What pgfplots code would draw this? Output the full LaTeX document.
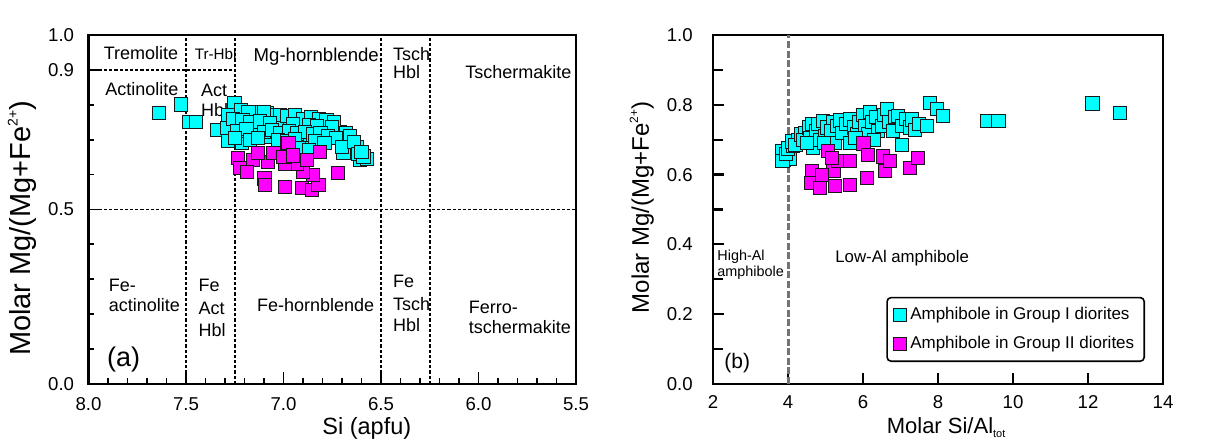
\documentclass[border=0pt]{standalone}
\usepackage{pgfplots}
\pgfplotsset{compat=1.18}
\usepackage{fontspec}
\setmainfont{Liberation Sans}
\definecolor{grpI}{RGB}{0,255,255}
\definecolor{grpII}{RGB}{255,0,255}
\definecolor{edge}{RGB}{25,25,25}
\newcommand{\fs}[1]{\fontsize{#1}{#1}\selectfont}

% group I (cyan) and group II (magenta) amphiboles
\pgfplotsset{
  amphI/.style={only marks, mark=square*, mark size=3.3pt, draw=edge, fill=grpI,
    mark options={line width=0.45pt, sharp corners}},
  amphII/.style={only marks, mark=square*, mark size=3.3pt, draw=edge, fill=grpII,
    mark options={line width=0.45pt, sharp corners}},
  field/.style={black, line width=0.8pt, dash pattern=on 1.6pt off 1pt, forget plot},
  /pgf/number format/assume math mode=true,
}

\begin{document}
\begin{tikzpicture}
\useasboundingbox (0,0) rectangle (609.5pt,-221pt);

% ---------------- (a) classification diagram ----------------
\begin{axis}[
  at={(44.25pt,-192pt)}, anchor=south west,
  scale only axis, width=243.75pt, height=174.5pt,
  xmin=5.5, xmax=8, x dir=reverse, ymin=0, ymax=1,
  xtick={5.5,6,6.5,7,7.5,8}, minor x tick num=4,
  ytick={0,0.5,0.9,1}, minor ytick={0.1,0.2,0.3,0.4,0.6,0.7,0.8},
  xtick pos=bottom, ytick pos=left, tick align=inside,
  major tick length=6pt, minor tick length=3pt,
  axis line style={line width=1.1pt},
  every tick/.style={black, line width=0.9pt},
  xticklabel style={font=\fs{9.3}, inner sep=0pt, yshift=-6.5pt,
    /pgf/number format/fixed, /pgf/number format/fixed zerofill, /pgf/number format/precision=1},
  yticklabel style={font=\fs{9.3}, inner sep=0pt, xshift=-7pt,
    /pgf/number format/fixed, /pgf/number format/fixed zerofill, /pgf/number format/precision=1},
  xlabel={Si (apfu)},
  xlabel style={font=\fs{11.75}, at={(axis description cs:0.571,-0.126)}, anchor=center},
  ylabel={Molar Mg/(Mg+Fe\raisebox{0.85ex}{\fs{7}2+})},
  ylabel style={font=\fs{14.5}, at={(axis description cs:-0.136,0.446)}, anchor=center},
]
\addplot[field] coordinates {(7.5,0) (7.5,1)};
\addplot[field] coordinates {(7.25,0) (7.25,1)};
\addplot[field] coordinates {(6.5,0) (6.5,1)};
\addplot[field] coordinates {(6.25,0) (6.25,1)};
\addplot[field] coordinates {(8,0.5) (5.5,0.5)};
\addplot[field] coordinates {(8,0.9) (7.25,0.9)};

\addplot[amphI] coordinates {
(7.637,0.776) (7.527,0.801) (7.485,0.750) (7.450,0.750) (7.343,0.728)
(7.252,0.806) (7.291,0.733) (7.286,0.697) (7.283,0.771) (7.214,0.690)
(7.189,0.756) (7.137,0.780) (7.086,0.776) (7.040,0.771) (6.984,0.756)
(6.932,0.752) (6.881,0.752) (6.813,0.742) (6.765,0.749) (6.710,0.723)
(6.690,0.720) (6.642,0.694) (6.625,0.680) (6.608,0.642) (6.573,0.644)
(6.650,0.675) (6.693,0.661) (6.786,0.718) (6.890,0.690) (7.069,0.709)
(7.155,0.733) (7.035,0.733) (7.22,0.785) (7.18,0.778) (7.10,0.779)
(7.02,0.772) (6.98,0.768) (6.94,0.770) (6.90,0.760) (6.86,0.765)
(6.82,0.758) (6.78,0.757) (6.74,0.750) (7.26,0.760) (7.21,0.755)
(7.17,0.750) (7.12,0.752) (7.07,0.748) (6.95,0.745) (6.87,0.742)
(6.83,0.740) (6.75,0.735) (6.68,0.720) (7.24,0.725) (7.19,0.730)
(7.10,0.722) (7.06,0.728) (7.02,0.720) (6.97,0.725) (6.93,0.718)
(6.89,0.722) (6.85,0.715) (6.81,0.718) (6.77,0.710) (6.73,0.705)
(6.66,0.710) (7.25,0.705) (7.17,0.700) (7.13,0.705) (7.03,0.700)
(6.98,0.695) (6.94,0.702) (6.84,0.697) (6.79,0.690) (6.70,0.680)
(6.64,0.694) (6.62,0.660) (6.59,0.652) (6.60,0.665) (6.92,0.675)
(6.87,0.670)
};
\addplot[amphII] coordinates {
(6.975,0.690) (7.232,0.647) (7.155,0.642) (7.078,0.637) (7.223,0.618)
(7.186,0.608) (7.098,0.589) (7.095,0.570) (6.992,0.565) (6.907,0.561)
(6.855,0.556) (6.821,0.570) (6.847,0.599) (6.902,0.608) (6.932,0.632)
(6.992,0.632) (7.052,0.661) (6.813,0.666) (6.719,0.604) (6.881,0.642)
(7.129,0.661) (7.000,0.650) (6.950,0.655)
};

\node[font=\fs{9}, anchor=base west] at (axis cs:7.958,0.930) {Tremolite};
\node[font=\fs{7.6}, anchor=base west] at (axis cs:7.491,0.930) {Tr-Hbl};
\node[font=\fs{9.3}, anchor=base west] at (axis cs:7.189,0.923) {Mg-hornblende};
\node[font=\fs{9}, anchor=base west] at (axis cs:6.474,0.928) {Tsch};
\node[font=\fs{9}, anchor=base west] at (axis cs:6.474,0.876) {Hbl};
\node[font=\fs{9}, anchor=base west] at (axis cs:6.104,0.876) {Tschermakite};
\node[font=\fs{9}, anchor=base west] at (axis cs:7.950,0.828) {Actinolite};
\node[font=\fs{9}, anchor=base west] at (axis cs:7.459,0.823) {Act};
\node[font=\fs{9}, anchor=base west] at (axis cs:7.459,0.766) {Hbl};
\node[font=\fs{9}, anchor=base west] at (axis cs:7.932,0.265) {Fe-};
\node[font=\fs{9}, anchor=base west] at (axis cs:7.932,0.207) {actinolite};
\node[font=\fs{9}, anchor=base west] at (axis cs:7.471,0.265) {Fe};
\node[font=\fs{9}, anchor=base west] at (axis cs:7.471,0.198) {Act};
\node[font=\fs{9}, anchor=base west] at (axis cs:7.471,0.136) {Hbl};
\node[font=\fs{9}, anchor=base west] at (axis cs:7.172,0.207) {Fe-hornblende};
\node[font=\fs{9}, anchor=base west] at (axis cs:6.474,0.277) {Fe};
\node[font=\fs{9}, anchor=base west] at (axis cs:6.474,0.212) {Tsch};
\node[font=\fs{9}, anchor=base west] at (axis cs:6.474,0.150) {Hbl};
\node[font=\fs{9}, anchor=base west] at (axis cs:6.086,0.2025) {Ferro-};
\node[font=\fs{9}, anchor=base west] at (axis cs:6.086,0.145) {tschermakite};
\node[font=\fs{13.5}, anchor=base west] at (axis cs:7.941,0.050) {(a)};
\node[font=\fs{9}, anchor=base east, inner sep=0pt] at (axis description cs:1.002,1.026)
  {Ca\raisebox{-0.4ex}{\fs{4.5}B}>1.5; (Na+K)\raisebox{-0.4ex}{\fs{4.5}A}<0.5};
\end{axis}

% ---------------- (b) Mg# vs Si/Al ----------------
\begin{axis}[
  at={(356.5pt,-192pt)}, anchor=south west,
  scale only axis, width=225pt, height=174.5pt,
  xmin=2, xmax=14, ymin=0, ymax=1,
  xtick={2,4,...,14}, ytick={0,0.2,...,1.0}, minor y tick num=1,
  xtick pos=bottom, ytick pos=left, tick align=inside,
  major tick length=5.5pt, minor tick length=5pt,
  axis line style={line width=1.2pt},
  every tick/.style={black, line width=1.1pt},
  xticklabel style={font=\fs{9.3}, inner sep=0pt, yshift=-5.5pt},
  yticklabel style={font=\fs{9.3}, inner sep=0pt, xshift=-10pt,
    /pgf/number format/fixed, /pgf/number format/fixed zerofill, /pgf/number format/precision=1},
  xlabel={Molar Si/Al\raisebox{-0.35ex}{\fs{5.5}tot}},
  xlabel style={font=\fs{11}, at={(axis description cs:0.518,-0.126)}, anchor=center},
  ylabel={Molar Mg/(Mg+Fe\raisebox{0.85ex}{\fs{6}2+})},
  ylabel style={font=\fs{12}, at={(axis description cs:-0.158,0.506)}, anchor=center},
  legend style={at={(axis description cs:0.96,0.063)}, anchor=south east,
    font=\fs{8.5}, draw=black, line width=0.8pt, rounded corners=2pt,
    inner xsep=3pt, inner ysep=3pt, row sep=2.5pt, cells={anchor=west}},
]
\addplot[black!55, line width=1.5pt, dash pattern=on 3.5pt off 1.3pt, forget plot]
  coordinates {(4,0) (4,1)};

\addplot[amphI] coordinates {
(3.876,0.643) (4.05,0.645) (3.83,0.667) (3.85,0.640) (3.95,0.660)
(4.00,0.675) (4.14,0.681) (4.10,0.695) (4.27,0.700) (4.20,0.685)
(4.35,0.715) (4.45,0.720) (4.40,0.700) (4.55,0.735) (4.63,0.744)
(4.67,0.677) (4.60,0.705) (4.75,0.725) (4.85,0.700) (4.80,0.745)
(4.94,0.753) (5.00,0.710) (5.05,0.735) (5.19,0.751) (5.15,0.725)
(5.25,0.691) (5.30,0.740) (5.40,0.755) (5.45,0.720) (5.55,0.745)
(5.65,0.758) (5.65,0.691) (5.75,0.735) (5.85,0.715) (5.90,0.750)
(6.01,0.772) (6.05,0.740) (6.14,0.715) (6.19,0.779) (6.25,0.750)
(6.35,0.765) (6.40,0.725) (6.50,0.739) (6.55,0.770) (6.63,0.787)
(6.70,0.750) (6.80,0.725) (6.85,0.765) (6.94,0.768) (7.03,0.686)
(7.05,0.740) (7.15,0.760) (7.25,0.735) (7.30,0.758) (7.39,0.729)
(7.50,0.745) (7.70,0.739) (7.79,0.806) (7.97,0.787) (8.14,0.768)
(9.31,0.753) (9.61,0.753) (12.12,0.804) (12.85,0.777) (5.80,0.705)
(6.30,0.700) (4.95,0.690) (4.50,0.690)
};
\addplot[amphII] coordinates {
(6.01,0.689) (5.07,0.667) (4.63,0.610) (4.61,0.576) (4.85,0.562)
(5.25,0.567) (5.21,0.610) (5.34,0.638) (5.65,0.638) (5.17,0.648)
(5.65,0.571) (6.10,0.590) (6.14,0.657) (6.54,0.652) (6.59,0.610)
(6.72,0.638) (7.25,0.619) (7.47,0.648) (4.90,0.600)
};
\legend{Amphibole in Group I diorites, Amphibole in Group II diorites}

\node[font=\fs{7.2}, anchor=base west, inner sep=0pt] at (axis cs:2.107,0.355) {High-Al};
\node[font=\fs{7.2}, anchor=base west, inner sep=0pt] at (axis cs:2.107,0.307) {amphibole};
\node[font=\fs{8.4}, anchor=base west, inner sep=0pt] at (axis cs:5.253,0.348) {Low-Al amphibole};
\node[font=\fs{10.5}, anchor=base west, inner sep=0pt] at (axis cs:2.293,0.045) {(b)};
\end{axis}
\end{tikzpicture}
\end{document}
